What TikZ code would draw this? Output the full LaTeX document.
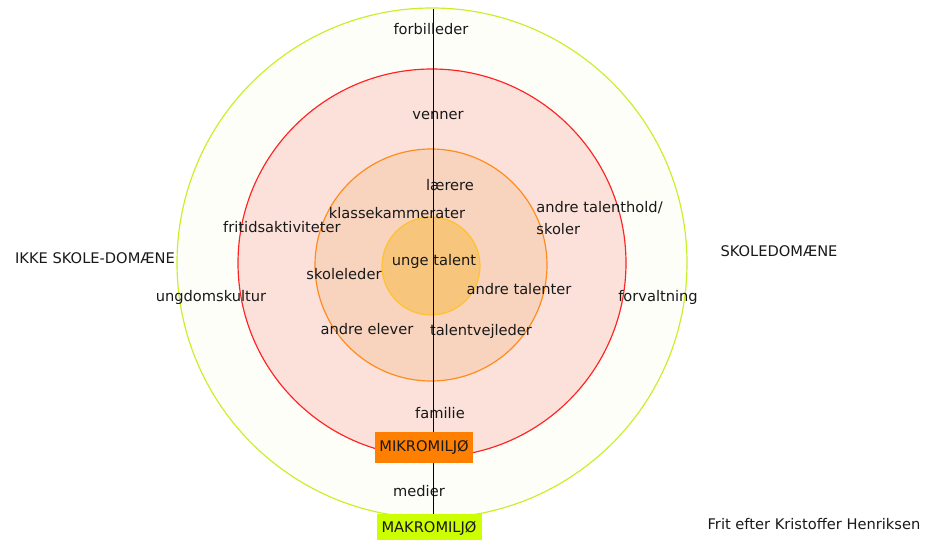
\documentclass[tikz,border=0pt]{standalone}
\usepackage{fontspec}
\setmainfont{DejaVu Sans}
\definecolor{outerline}{HTML}{C8F02A}
\definecolor{outerfill}{HTML}{FEFEF9}
\definecolor{midline}{HTML}{FF2424}
\definecolor{midfill}{HTML}{FBE1DA}
\definecolor{innerline}{HTML}{FF8C1A}
\definecolor{innerfill}{HTML}{F8D3BE}
\definecolor{coreline}{HTML}{FFC22E}
\definecolor{corefill}{HTML}{F7C57C}
\definecolor{mikro}{HTML}{FF7F00}
\definecolor{makro}{HTML}{CCFF00}
\tikzset{
  lbl/.style={font=\fontsize{12.5}{19.5}\selectfont, text=black!90, inner sep=1pt},
  ring/.style={line width=1pt},
}
\begin{document}
\begin{tikzpicture}[x=0.03cm,y=-0.03cm]
      \useasboundingbox (0,0) rectangle (928,540);
      % rings
      \draw[ring, outerline, fill=outerfill] (432,263) circle (255);
      \draw[ring, midline, fill=midfill] (432,263) circle (194);
      \draw[ring, innerline, fill=innerfill] (431,265) circle (116);
      \draw[ring, coreline, fill=corefill] (431,266) circle (49);
      % labels
      \node[lbl] (forbilleder) at (431,29) {forbilleder};
      \node[lbl] (venner) at (438,116) {venner};
      \node[lbl] (laerere) at (450,185) {lærere};
      \node[lbl] (klasse) at (397,213) {klassekammerater};
      \node[lbl, align=left, anchor=west] (talenthold) at (535,218) {andre talenthold/\\skoler};
      \node[lbl] (fritid) at (282,227) {fritidsaktiviteter};
      \node[lbl] (ikke) at (95,258) {IKKE SKOLE-DOMÆNE};
      \node[lbl] (skoledom) at (779,251) {SKOLEDOMÆNE};
      \node[lbl] (unge) at (434,261) {unge talent};
      \node[lbl] (skoleleder) at (344,274) {skoleleder};
      \node[lbl] (talenter) at (519,289) {andre talenter};
      \node[lbl] (ungdom) at (211,297) {ungdomskultur};
      \node[lbl] (forvalt) at (658,297) {forvaltning};
      \node[lbl] (elever) at (367,329) {andre elever};
      \node[lbl] (vejleder) at (481,331) {talentvejleder};
      \node[lbl] (familie) at (440,413) {familie};
      \node[lbl] (medier) at (419,491) {medier};
      \node[lbl] (kilde) at (814,524) {Frit efter Kristoffer Henriksen};
      % axis
      \coordinate (top) at (433,9);
      \coordinate (bottom) at (433,518);
      \draw[black, line width=0.8pt] (top) -- (bottom);
      % tags
      \node[lbl, fill=mikro, minimum width=98*0.03cm, minimum height=31*0.03cm] (mikro) at (424,447) {MIKROMILJØ};
      \node[lbl, fill=makro, minimum width=105*0.03cm, minimum height=28*0.03cm, anchor=north] (makro) at (429,514) {MAKROMILJØ};
    \end{tikzpicture}
\end{document}
